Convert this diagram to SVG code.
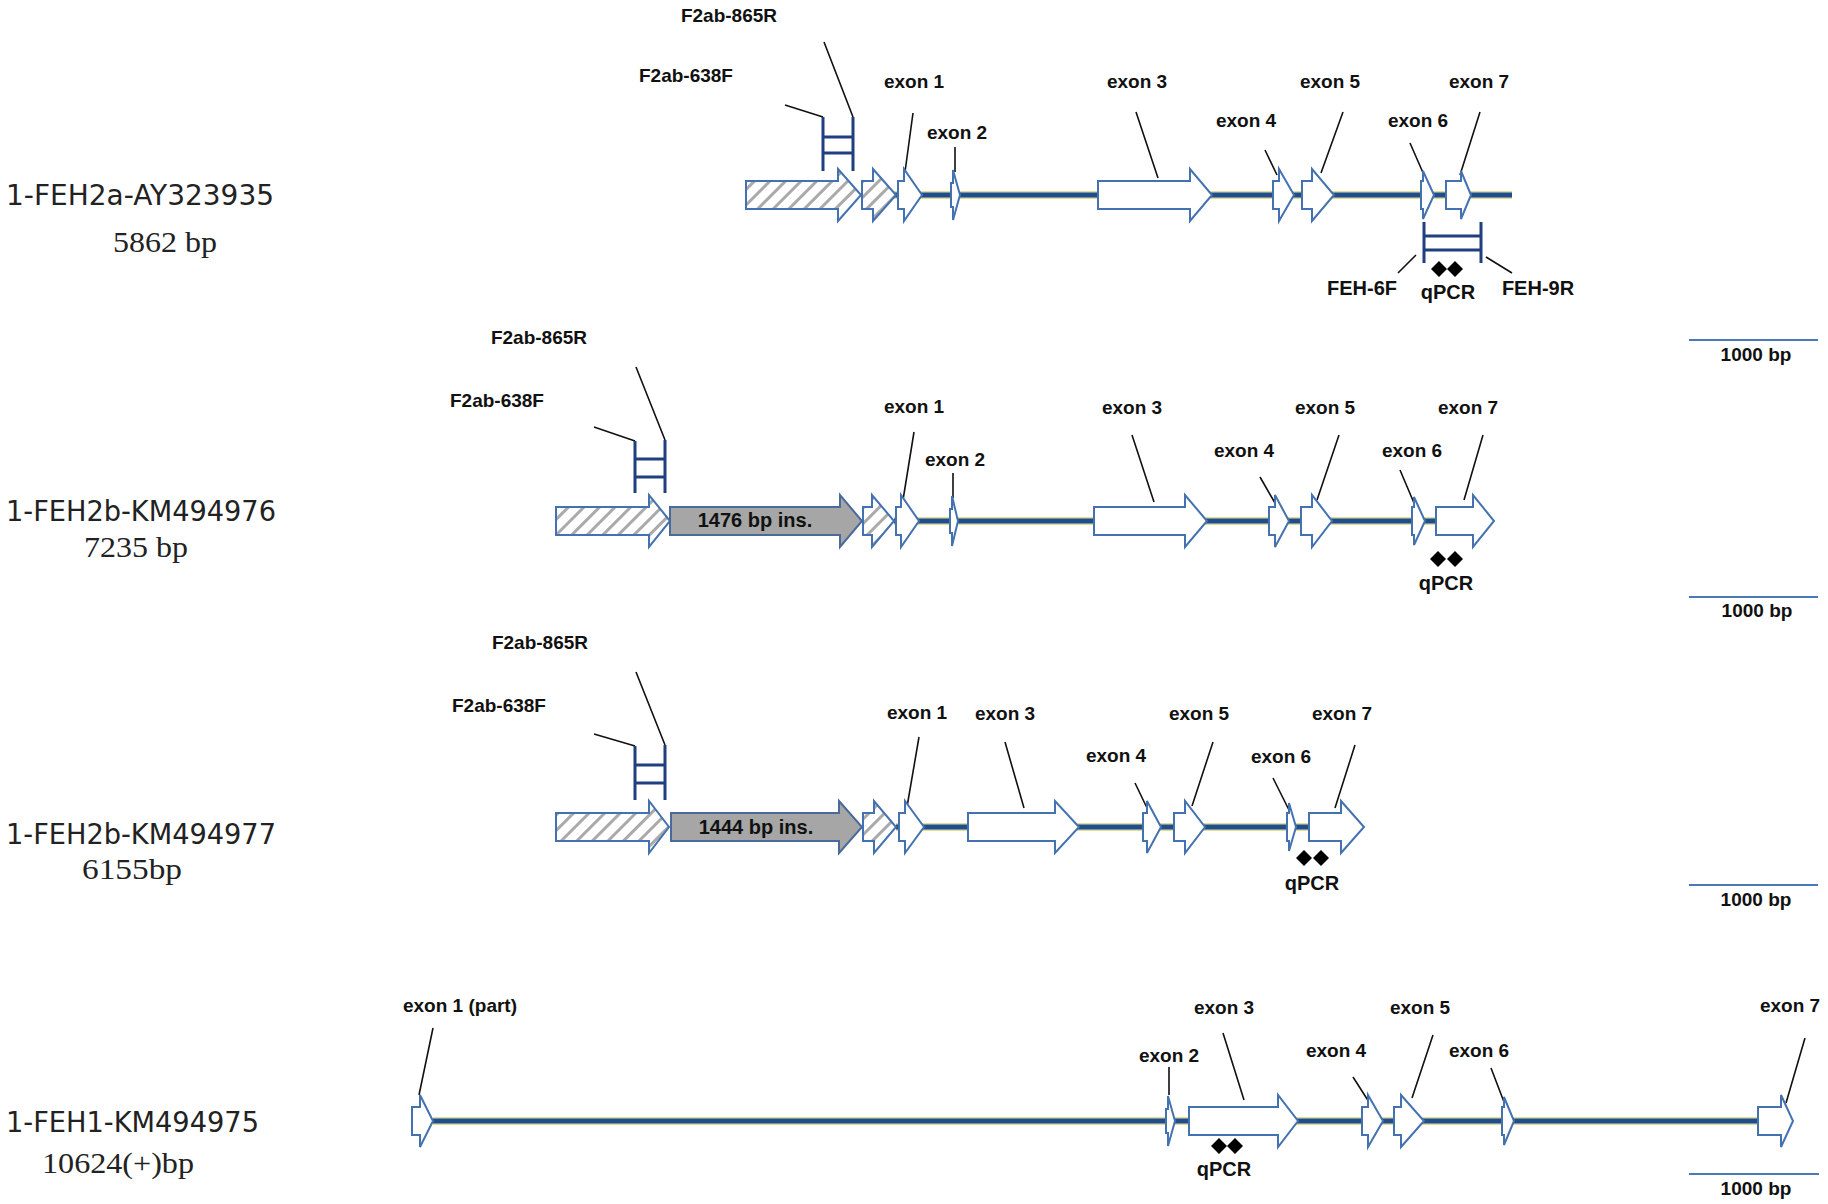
<svg xmlns="http://www.w3.org/2000/svg" width="1828" height="1204" viewBox="0 0 1828 1204">
<style>
.ex{fill:#fff;stroke:#4472b0;stroke-width:2}
.hat{fill:url(#hatch);stroke:#4472b0;stroke-width:2}
.ins{fill:#a6a6a6;stroke:#4a6a9a;stroke-width:2}
.bb1{stroke:#e2dc94;stroke-width:8;fill:none}
.bb2{stroke:#1f4e8f;stroke-width:5;fill:none}
.lead{stroke:#111;stroke-width:1.6;fill:none}
.pr{stroke:#1f3f7f;stroke-width:3;fill:none}
.scale{stroke:#4a7ab5;stroke-width:2;fill:none}
.lbl{font-family:"Liberation Sans",Arial,sans-serif;font-weight:bold;font-size:19px;fill:#111;text-anchor:middle}
.big{font-size:20px}
.name{font-family:"DejaVu Sans",sans-serif;font-size:28px;fill:#222}
.bp{font-family:"Liberation Serif",serif;font-size:30px;fill:#222}
.dia{fill:#000}
</style>
<defs>
<pattern id="hatch" patternUnits="userSpaceOnUse" width="11" height="11" patternTransform="rotate(45)">
<rect x="0" y="0" width="11" height="11" fill="#fff"/>
<rect x="0" y="0" width="3" height="11" fill="#aaaaaa"/>
</pattern>
</defs>

<g id="labels">
<text class="name" x="6" y="205" textLength="268" lengthAdjust="spacingAndGlyphs">1-FEH2a-AY323935</text>
<text class="bp" x="113" y="252" textLength="104" lengthAdjust="spacingAndGlyphs">5862 bp</text>
<text class="name" x="6" y="521" textLength="270" lengthAdjust="spacingAndGlyphs">1-FEH2b-KM494976</text>
<text class="bp" x="84" y="557" textLength="104" lengthAdjust="spacingAndGlyphs">7235 bp</text>
<text class="name" x="6" y="844" textLength="270" lengthAdjust="spacingAndGlyphs">1-FEH2b-KM494977</text>
<text class="bp" x="82" y="879" textLength="100" lengthAdjust="spacingAndGlyphs">6155bp</text>
<text class="name" x="6" y="1132" textLength="253" lengthAdjust="spacingAndGlyphs">1-FEH1-KM494975</text>
<text class="bp" x="42" y="1173" textLength="152" lengthAdjust="spacingAndGlyphs">10624(+)bp</text>
</g>

<g id="connectors">
<!-- backbones -->
<path class="bb1" d="M880 195H1512M894 521H1436M896 827H1309M433 1121H1758"/>
<path class="bb2" d="M880 195H1512M894 521H1436M896 827H1309M433 1121H1758"/>
<!-- row 1 leaders -->
<path class="lead" d="M785 105L823 117M824 42L853 117M913 113L905 172M955 147V172M1136 112L1158 178M1265 150L1277 175M1343 112L1321 173M1410 143L1424 175M1480 112L1460 175M1416 255L1398 273M1486 257L1512 273"/>
<!-- row 2 leaders -->
<path class="lead" d="M594 427L635 441M636 367L665 440M914 432L903 500M953 473V498M1132 435L1154 502M1260 477L1275 503M1339 435L1317 500M1400 470L1414 503M1483 435L1464 500"/>
<!-- row 3 leaders -->
<path class="lead" d="M594 734L635 746M636 672L665 745M919 737L907 807M1005 742L1024 808M1135 783L1148 810M1213 742L1192 806M1273 778L1289 810M1355 745L1335 808"/>
<!-- row 4 leaders -->
<path class="lead" d="M433 1028L419 1095M1169 1067V1095M1223 1033L1244 1100M1353 1077L1369 1102M1433 1035L1412 1098M1491 1068L1504 1102M1805 1038L1786 1103"/>
</g>

<g id="primers">
<path class="pr" d="M823 117V171M853 117V171M823 137H853M823 153H853"/>
<path class="pr" d="M1424 222V263M1481 222V263M1424 236H1481M1424 250H1481"/>
<path class="pr" d="M635 441V493M665 440V493M635 459H665M635 477H665"/>
<path class="pr" d="M635 746V800M665 745V800M635 765H665M635 783H665"/>
</g>

<g id="row1">
<path class="hat" d="M746 181H838V169L861 195L838 221V209H746Z"/>
<path class="hat" d="M862 181H873V169L896 195L873 221V209H862Z"/>
<path class="ex" d="M898 181H904V169L922 195L904 221V209H898Z"/>
<path class="ex" d="M951 183H953V170L960 195L953 220V207H951Z"/>
<path class="ex" d="M1098 181H1190V169L1212 195L1190 221V209H1098Z"/>
<path class="ex" d="M1273 181H1279V169L1294 195L1279 221V209H1273Z"/>
<path class="ex" d="M1302 181H1312V169L1334 195L1312 221V209H1302Z"/>
<path class="ex" d="M1421 181H1423V171L1434 195L1423 219V209H1421Z"/>
<path class="ex" d="M1446 181H1461V171L1471 195L1461 219V209H1446Z"/>
<text class="lbl" x="729" y="22">F2ab-865R</text>
<text class="lbl" x="686" y="82">F2ab-638F</text>
<text class="lbl" x="914" y="88">exon 1</text>
<text class="lbl" x="957" y="139">exon 2</text>
<text class="lbl" x="1137" y="88">exon 3</text>
<text class="lbl" x="1246" y="127">exon 4</text>
<text class="lbl" x="1330" y="88">exon 5</text>
<text class="lbl" x="1418" y="127">exon 6</text>
<text class="lbl" x="1479" y="88">exon 7</text>
<text class="lbl big" x="1362" y="295">FEH-6F</text>
<text class="lbl big" x="1448" y="299">qPCR</text>
<text class="lbl big" x="1538" y="295">FEH-9R</text>
<path class="dia" d="M1439 261L1447 269L1439 277L1431 269ZM1455 261L1463 269L1455 277L1447 269Z"/>
<path class="scale" d="M1689 340H1818"/>
<text class="lbl" x="1756" y="361">1000 bp</text>
</g>

<g id="row2">
<path class="hat" d="M556 507H649V495L670 521L649 547V535H556Z"/>
<path class="ins" d="M670 507H840V495L862 521L840 547V535H670Z"/>
<path class="hat" d="M863 507H872V495L894 521L872 547V535H863Z"/>
<path class="ex" d="M896 507H901V495L919 521L901 547V535H896Z"/>
<path class="ex" d="M950 509H952V496L958 521L952 546V533H950Z"/>
<path class="ex" d="M1094 507H1185V495L1207 521L1185 547V535H1094Z"/>
<path class="ex" d="M1269 507H1275V495L1289 521L1275 547V535H1269Z"/>
<path class="ex" d="M1301 507H1312V495L1332 521L1312 547V535H1301Z"/>
<path class="ex" d="M1412 507H1414V497L1425 521L1414 545V535H1412Z"/>
<path class="ex" d="M1436 507H1473V495L1494 521L1473 547V535H1436Z"/>
<text class="lbl big" x="755" y="527">1476 bp ins.</text>
<text class="lbl" x="539" y="344">F2ab-865R</text>
<text class="lbl" x="497" y="407">F2ab-638F</text>
<text class="lbl" x="914" y="413">exon 1</text>
<text class="lbl" x="955" y="466">exon 2</text>
<text class="lbl" x="1132" y="414">exon 3</text>
<text class="lbl" x="1244" y="457">exon 4</text>
<text class="lbl" x="1325" y="414">exon 5</text>
<text class="lbl" x="1412" y="457">exon 6</text>
<text class="lbl" x="1468" y="414">exon 7</text>
<path class="dia" d="M1438 551L1446 559L1438 567L1430 559ZM1455 551L1463 559L1455 567L1447 559Z"/>
<text class="lbl big" x="1446" y="590">qPCR</text>
<path class="scale" d="M1689 597H1818"/>
<text class="lbl" x="1757" y="617">1000 bp</text>
</g>

<g id="row3">
<path class="hat" d="M556 813H649V801L669 827L649 853V841H556Z"/>
<path class="ins" d="M671 813H839V801L862 827L839 853V841H671Z"/>
<path class="hat" d="M863 813H874V801L896 827L874 853V841H863Z"/>
<path class="ex" d="M899 813H905V801L924 827L905 853V841H899Z"/>
<path class="ex" d="M968 813H1055V801L1079 827L1055 853V841H968Z"/>
<path class="ex" d="M1143 813H1147V801L1161 827L1147 853V841H1143Z"/>
<path class="ex" d="M1174 813H1185V801L1205 827L1185 853V841H1174Z"/>
<path class="ex" d="M1287 813H1289V803L1296 827L1289 851V841H1287Z"/>
<path class="ex" d="M1309 813H1341V801L1364 827L1341 853V841H1309Z"/>
<text class="lbl big" x="756" y="834">1444 bp ins.</text>
<text class="lbl" x="540" y="649">F2ab-865R</text>
<text class="lbl" x="499" y="712">F2ab-638F</text>
<text class="lbl" x="917" y="719">exon 1</text>
<text class="lbl" x="1005" y="720">exon 3</text>
<text class="lbl" x="1116" y="762">exon 4</text>
<text class="lbl" x="1199" y="720">exon 5</text>
<text class="lbl" x="1281" y="763">exon 6</text>
<text class="lbl" x="1342" y="720">exon 7</text>
<path class="dia" d="M1304 850L1312 858L1304 866L1296 858ZM1321 850L1329 858L1321 866L1313 858Z"/>
<text class="lbl big" x="1312" y="890">qPCR</text>
<path class="scale" d="M1689 885H1818"/>
<text class="lbl" x="1756" y="906">1000 bp</text>
</g>

<g id="row4">
<path class="ex" d="M412 1107H420V1095L433 1121L420 1147V1135H412Z"/>
<path class="ex" d="M1166 1109H1168V1096L1175 1121L1168 1146V1133H1166Z"/>
<path class="ex" d="M1189 1107H1278V1095L1298 1121L1278 1147V1135H1189Z"/>
<path class="ex" d="M1362 1107H1368V1095L1383 1121L1368 1147V1135H1362Z"/>
<path class="ex" d="M1394 1107H1401V1095L1424 1121L1401 1147V1135H1394Z"/>
<path class="ex" d="M1502 1107H1504V1097L1514 1121L1504 1145V1135H1502Z"/>
<path class="ex" d="M1758 1107H1781V1095L1793 1121L1781 1147V1135H1758Z"/>
<text class="lbl" x="460" y="1012">exon 1 (part)</text>
<text class="lbl" x="1169" y="1062">exon 2</text>
<text class="lbl" x="1224" y="1014">exon 3</text>
<text class="lbl" x="1336" y="1057">exon 4</text>
<text class="lbl" x="1420" y="1014">exon 5</text>
<text class="lbl" x="1479" y="1057">exon 6</text>
<text class="lbl" x="1790" y="1012">exon 7</text>
<path class="dia" d="M1219 1138L1227 1146L1219 1154L1211 1146ZM1235 1138L1243 1146L1235 1154L1227 1146Z"/>
<text class="lbl big" x="1224" y="1176">qPCR</text>
<path class="scale" d="M1689 1174H1819"/>
<text class="lbl" x="1756" y="1195">1000 bp</text>
</g>
</svg>
